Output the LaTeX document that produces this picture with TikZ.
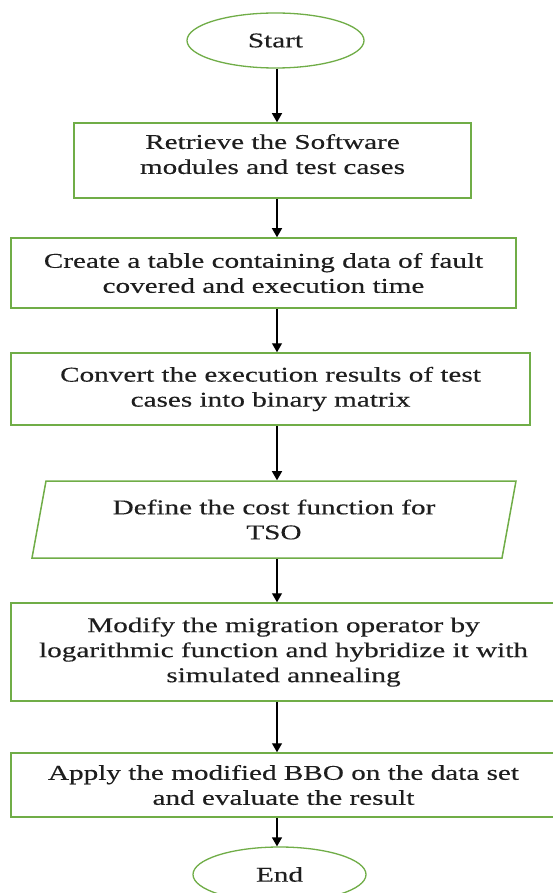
\documentclass[tikz,border=0pt]{standalone}
\usepackage{fontspec}
\setmainfont{Liberation Serif}[FakeStretch=1.39,FakeBold=0.3]
\usetikzlibrary{shapes.geometric,arrows.meta}
\definecolor{boxgreen}{RGB}{112,173,71}
\definecolor{txt}{RGB}{30,30,30}
\begin{document}
\begin{tikzpicture}[x=1pt,y=-1pt,
  every node/.style={font=\fontsize{21}{25}\selectfont, align=center, inner sep=0pt, text=txt},
  term/.style={ellipse, draw=boxgreen, line width=1.3pt},
  stepbox/.style={rectangle, draw=boxgreen, line width=1.5pt},
  iobox/.style={trapezium, draw=boxgreen, line width=1.5pt, trapezium left angle=70.7, trapezium right angle=109.3, trapezium stretches body},
  arr/.style={-{Triangle[width=10pt,length=9pt]}, line width=1.3pt, black}]
\useasboundingbox (0,0) rectangle (553,893);
\clip (0,0) rectangle (553,893);
\fill[white] (0,0) rectangle (553,893);
\coordinate (ax) at (277,0);
\node[term, minimum width=177pt, minimum height=55pt] (s) at (275.5,40.5) {Start};
\node[stepbox, minimum width=397pt, minimum height=75pt] (b1) at (272.5,160.5) {Retrieve the Software\\modules and test cases\\[-12pt]\mbox{}};
\node[stepbox, minimum width=505pt, minimum height=70pt] (b2) at (263.5,273) {Create a table containing data of fault\\covered and execution time};
\node[stepbox, minimum width=519pt, minimum height=72pt] (b3) at (270.5,389) {Convert the execution results of test\\cases into binary matrix};
\node[iobox, minimum width=484pt, minimum height=77pt] (b4) at (274,519.5) {Define the cost function for\\TSO};
\node[stepbox, minimum width=545pt, minimum height=98pt] (b5) at (283.5,652) {Modify the migration operator by\\logarithmic function and hybridize it with\\simulated annealing};
\node[stepbox, minimum width=545pt, minimum height=64pt] (b6) at (283.5,785) {Apply the modified BBO on the data set\\and evaluate the result};
\node[term, minimum width=173pt, minimum height=55pt] (e) at (279.5,874.5) {End};
\draw[arr] (s.south -| ax) -- (b1.north -| ax);
\draw[arr] (b1.south -| ax) -- (b2.north -| ax);
\draw[arr] (b2.south -| ax) -- (b3.north -| ax);
\draw[arr] (b3.south -| ax) -- (b4.north -| ax);
\draw[arr] (b4.south -| ax) -- (b5.north -| ax);
\draw[arr] (b5.south -| ax) -- (b6.north -| ax);
\draw[arr] (b6.south -| ax) -- (e.north -| ax);
\end{tikzpicture}
\end{document}
